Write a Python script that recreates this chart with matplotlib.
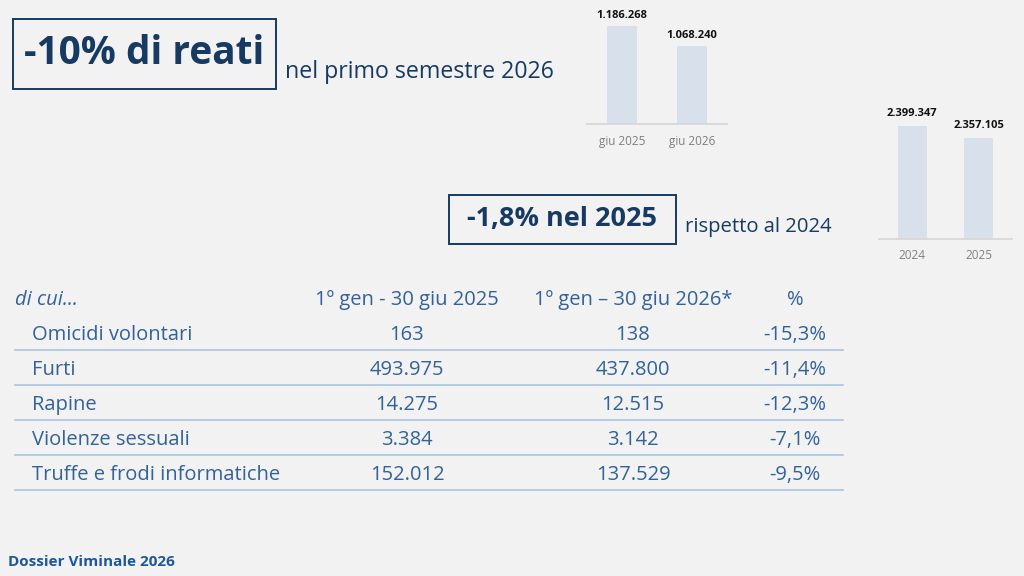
import matplotlib
matplotlib.use('Agg')
import matplotlib.pyplot as plt
from matplotlib.patches import Rectangle
from matplotlib.lines import Line2D

plt.rcParams['font.family'] = ['Open Sans', 'DejaVu Sans']

# dati dei due grafici a barre
semestre_labels = ['giu 2025', 'giu 2026']
semestre_values = [1186268, 1068240]
anno_labels = ['2024', '2025']
anno_values = [2399347, 2357105]

# dati della tabella
reati = ['Omicidi volontari', 'Furti', 'Rapine', 'Violenze sessuali',
         'Truffe e frodi informatiche']
reati_2025 = [163, 493975, 14275, 3384, 152012]
reati_2026 = [138, 437800, 12515, 3142, 137529]
reati_var = [-15.3, -11.4, -12.3, -7.1, -9.5]
col_headers = ['1º gen - 30 giu 2025', '1º gen – 30 giu 2026*', '%']

BG = '#f2f2f2'
NAVY = '#173a63'
BLUE = '#326297'
BAR = '#d8e1eb'
LINE = '#a9c3e0'
TFS = 14.5  # testo tabella


def fmt_int(v):
    return f"{v:,}".replace(',', '.')


def fmt_pct(v):
    return f"{v:.1f}".replace('.', ',') + '%'


fig = plt.figure(figsize=(10.24, 5.76), dpi=100, facecolor=BG)

# asse di sfondo in coordinate pixel
bg = fig.add_axes([0, 0, 1, 1])
bg.set_xlim(0, 1024)
bg.set_ylim(576, 0)
bg.axis('off')

# riquadri titolo
bg.add_patch(Rectangle((13, 19), 263, 70, fill=False, ec=NAVY, lw=1.4))
bg.text(144, 53, '-10% di reati', ha='center', va='center', fontsize=28,
        fontweight='bold', color=NAVY)
bg.text(285, 72, 'nel primo semestre 2026', ha='left', va='center',
        fontsize=16.7, color=NAVY)

bg.add_patch(Rectangle((449, 195), 227, 49, fill=False, ec=NAVY, lw=1.4))
bg.text(562, 219, '-1,8% nel 2025', ha='center', va='center', fontsize=19.5,
        fontweight='bold', color=NAVY)
bg.text(685, 227, 'rispetto al 2024', ha='left', va='center',
        fontsize=14.6, color=NAVY)

# tabella
bg.text(15, 300, 'di cui...', ha='left', va='center', fontsize=TFS,
        style='italic', color=BLUE)
col_x = [407, 633, 795]
for x, h in zip(col_x, col_headers):
    bg.text(x, 300, h, ha='center', va='center', fontsize=TFS, color=BLUE)

row_y0 = 335
row_h = 35
for i, name in enumerate(reati):
    y = row_y0 + i * row_h
    bg.text(32, y, name, ha='left', va='center', fontsize=TFS, color=BLUE)
    bg.text(col_x[0], y, fmt_int(reati_2025[i]), ha='center', va='center',
            fontsize=TFS, color=BLUE)
    bg.text(col_x[1], y, fmt_int(reati_2026[i]), ha='center', va='center',
            fontsize=TFS, color=BLUE)
    bg.text(col_x[2], y, fmt_pct(reati_var[i]), ha='center', va='center',
            fontsize=TFS, color=BLUE)
    bg.add_line(Line2D([15, 843], [y + 15, y + 15], color=LINE, lw=1.2))

bg.text(8, 562, 'Dossier Viminale 2026', ha='left', va='center', fontsize=11,
        fontweight='bold', color='#1d5799')


def small_bars(rect, labels, values, ylim, label_pad, tick_pad):
    ax = fig.add_axes(rect)
    ax.set_facecolor('none')
    bars = ax.bar(range(len(values)), values, width=0.44, color=BAR)
    ax.set_xlim(-0.5, len(values) - 0.5)
    ax.set_ylim(*ylim)
    ax.bar_label(bars, labels=[fmt_int(v) for v in values], padding=label_pad,
                 fontsize=8, fontweight='bold', color='#111111')
    ax.set_xticks(range(len(values)))
    ax.set_xticklabels(labels, fontsize=8.5, color='#7f7f7f')
    ax.tick_params(axis='x', length=0, pad=tick_pad)
    ax.set_yticks([])
    for s in ['top', 'left', 'right']:
        ax.spines[s].set_visible(False)
    ax.spines['bottom'].set_color('#d6d6d6')
    ax.spines['bottom'].set_linewidth(1.2)
    return ax


small_bars([587 / 1024, 1 - 124.3 / 576, 140 / 1024, 119.3 / 576],
           semestre_labels, semestre_values, (616000, 1306000), 3.5, 7.5)
small_bars([879 / 1024, 1 - 239 / 576, 133 / 1024, 139 / 576],
           anno_labels, anno_values, (2000600, 2489760), 5, 7)

fig.savefig('out.png', dpi=100, facecolor=BG)
